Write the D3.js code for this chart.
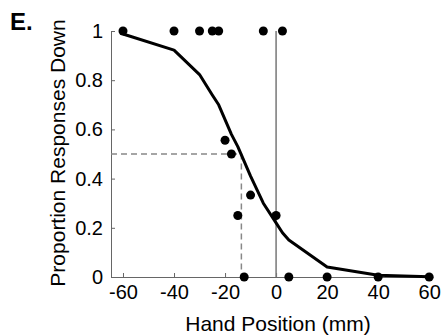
<!DOCTYPE html>
<html>
<head>
<meta charset="utf-8">
<script src="https://cdn.jsdelivr.net/npm/d3@7"></script>
<style>
  body { margin: 0; background: #fff; }
  text { font-family: "Liberation Sans", Arial, sans-serif; }
</style>
</head>
<body>
<svg id="chart"></svg>
<script>
// observed proportions
const obsX = [-60, -40, -30, -25, -22.5, -5, 2.5, -20, -17.5, -10, -15, 0, -12.5, 5, 20, 40, 60];
const obsY = [1, 1, 1, 1, 1, 1, 1, 0.556, 0.5, 0.333, 0.25, 0.25, 0, 0, 0, 0, 0];

// fitted curve, read at the stimulus positions
const fitX = [-60, -40, -30, -25, -22.5, -20, -17.5, -15, -12.5, -10, -5, 0, 2.5, 5, 20, 40, 60];
const fitY = [0.988, 0.922, 0.823, 0.74, 0.70, 0.64, 0.58, 0.53, 0.47, 0.41, 0.30, 0.22, 0.18, 0.15, 0.041, 0.007, 0.001];

const pse = -13.6;
const xTicks = [-60, -40, -20, 0, 20, 40, 60];
const yTicks = [0, 0.2, 0.4, 0.6, 0.8, 1];

const width = 443, height = 336;
const svg = d3.select("#chart").attr("width", width).attr("height", height);

const x = d3.scaleLinear().domain([-64.7, 61.5]).range([111, 433]);
const y = d3.scaleLinear().domain([0, 1]).range([277, 31]);

const axisColor = "#666";

// x axis (plain hyphen for negatives, like the original)
const gx = svg.append("g")
    .attr("transform", `translate(0,${y(0)})`)
    .call(d3.axisBottom(x).tickValues(xTicks).tickFormat(d => String(d))
        .tickSizeInner(-4).tickSizeOuter(0).tickPadding(8));
gx.select(".domain").attr("stroke", axisColor);
gx.selectAll(".tick line").attr("stroke", axisColor);
gx.selectAll("text").attr("font-size", 20).attr("fill", "#000")
    .style("font-family", '"Liberation Sans", Arial, sans-serif');

// y axis
const gy = svg.append("g")
    .attr("transform", `translate(${x.range()[0]},0)`)
    .call(d3.axisLeft(y).tickValues(yTicks).tickFormat(d => String(d))
        .tickSizeInner(-4).tickSizeOuter(0).tickPadding(8));
gy.select(".domain").attr("stroke", axisColor);
gy.selectAll(".tick line").attr("stroke", axisColor);
gy.selectAll("text").attr("font-size", 20).attr("fill", "#000")
    .style("font-family", '"Liberation Sans", Arial, sans-serif');

// zero line
svg.append("line")
    .attr("x1", x(0)).attr("x2", x(0))
    .attr("y1", y(1)).attr("y2", y(0))
    .attr("stroke", "#777").attr("stroke-width", 1.5);

// PSE dashed guides
svg.append("path")
    .attr("d", `M${x.range()[0]},${y(0.5)}H${x(pse)}V${y(0)}`)
    .attr("fill", "none")
    .attr("stroke", "#888").attr("stroke-width", 1.5)
    .attr("stroke-dasharray", "6,4");

// fitted curve
const line = d3.line().x(d => x(d[0])).y(d => y(d[1]));
svg.append("path")
    .datum(d3.zip(fitX, fitY))
    .attr("d", line)
    .attr("fill", "none")
    .attr("stroke", "#000")
    .attr("stroke-width", 3)
    .attr("stroke-linejoin", "round");

// data points
svg.selectAll("circle.obs")
    .data(d3.zip(obsX, obsY))
    .enter().append("circle")
    .attr("class", "obs")
    .attr("cx", d => x(d[0]))
    .attr("cy", d => y(d[1]))
    .attr("r", 4.5)
    .attr("fill", "#000");

// titles
svg.append("text")
    .attr("x", 278).attr("y", 331)
    .attr("text-anchor", "middle")
    .attr("font-size", 21)
    .text("Hand Position (mm)");

svg.append("text")
    .attr("transform", `translate(65,153) rotate(-90)`)
    .attr("text-anchor", "middle")
    .attr("font-size", 21)
    .text("Proportion Responses Down");

svg.append("text")
    .attr("x", 10).attr("y", 30)
    .attr("font-size", 24)
    .attr("font-weight", "bold")
    .text("E.");
</script>
</body>
</html>
